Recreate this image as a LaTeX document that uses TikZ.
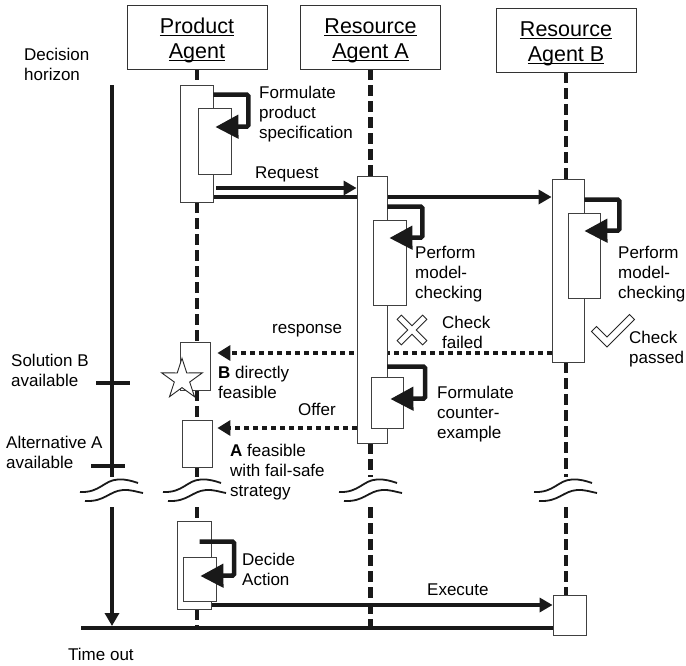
\documentclass[tikz,border=0pt]{standalone}
\usepackage{fontspec}
\setmainfont{Liberation Sans}
\usetikzlibrary{arrows.meta,calc}
\pgfdeclarelayer{bg}
\pgfsetlayers{bg,main}

% underlined word with a fixed rule depth
\newcommand\ulword[1]{\setbox0\hbox{#1}\rlap{\rule[-2.6pt]{\wd0}{1.1pt}}\box0}
% multi-line label whose baseline is the first line
\newcommand\labeltext[1]{\begin{tabular}[t]{@{}l@{}}#1\end{tabular}}

\tikzset{
  header/.style={draw=black!80, line width=0.9pt, minimum width=140pt, minimum height=64pt,
    inner sep=0pt},
  headtext/.style={inner sep=0pt, align=center, font=\fontsize{21.5}{25}\selectfont},
  actbox/.style={draw=black!75, fill=white, line width=0.8pt, inner sep=0pt},
  lifeline/.style={line width=4.5pt, dash pattern=on 11pt off 5pt, black!90},
  axisline/.style={line width=4.5pt, black!90},
  msg/.style={line width=4.5pt, black!90, -{Triangle[length=13pt,width=14pt]}},
  reply/.style={line width=4.5pt, black!90, dash pattern=on 5pt off 4pt,
    -{Triangle[length=13pt,width=15pt]}},
  selfloop/.style={line width=4.5pt, black!90, rounded corners=1.5pt,
    -{Triangle[length=23pt,width=23pt]}},
  markshape/.style={draw=black!85, fill=white, line width=0.9pt},
  lbl/.style={anchor=base west, inner sep=0pt, font=\fontsize{17}{20}\selectfont},
  brk/.pic={
    \draw[line width=1.8pt, black!90] (-32,0) .. controls (-12,1) and (-8,-12) .. (6,-12.5)
      .. controls (14,-13) and (20,-11) .. (26,-9);
    \draw[line width=1.8pt, black!90] (-27,9) .. controls (-7,10) and (-3,-1) .. (11,-2)
      .. controls (19,-2.5) and (25,0) .. (31,1);
  },
}

\begin{document}
\begin{tikzpicture}[x=1pt,y=-1pt]
\useasboundingbox (0,0) rectangle (686,665);

% agents
\node[header] (pa) at (197,37) {};
\node[header] (ra) at (370.5,37) {};
\node[header] (rb) at (566,40) {};
\node[headtext] (paName) at ($(pa)+(0,3.5)$) {\ulword{Product}\\\ulword{Agent}};
\node[headtext] (raName) at ($(ra)+(0,3.5)$) {\ulword{Resource}\\\ulword{Agent A}};
\node[headtext] (rbName) at ($(rb)+(0,3.5)$) {\ulword{Resource}\\\ulword{Agent B}};

% activation boxes
\node[actbox, minimum width=33pt, minimum height=117pt] (pa1) at (196.5,143.5) {};
\node[actbox, minimum width=33pt, minimum height=66pt] (pa1in) at (214.5,141) {};
\node[actbox, minimum width=30pt, minimum height=267pt] (ra1) at (372,309.5) {};
\node[actbox, minimum width=33pt, minimum height=85pt] (ra1in) at (389.5,262.5) {};
\node[actbox, minimum width=32pt, minimum height=51pt] (ra2in) at (387,402.5) {};
\node[actbox, minimum width=32pt, minimum height=183pt] (rb1) at (568,270.5) {};
\node[actbox, minimum width=32pt, minimum height=85pt] (rb1in) at (584,255.5) {};
\node[actbox, minimum width=30pt, minimum height=48pt] (pa2) at (195,366) {};
\node[actbox, minimum width=30pt, minimum height=47pt] (pa3) at (197,443.5) {};
\node[actbox, minimum width=34pt, minimum height=88pt] (pa4) at (194,565) {};
\node[actbox, minimum width=33pt, minimum height=44pt] (pa4in) at (199.5,579) {};
\node[actbox, minimum width=33pt, minimum height=40pt] (rb2) at (569.5,615) {};

% message levels and time axis points
\coordinate (yreq) at (0,188);
\coordinate (yreqb) at (0,197);
\coordinate (yresp) at (0,353);
\coordinate (yoffer) at (0,428);
\coordinate (yexec) at (0,605);
\coordinate (ybase) at (0,628);
\coordinate (brktop) at (0,477);
\coordinate (brkbot) at (0,507);
\coordinate (axtop) at (112,85);
\coordinate (axend) at (112,626);
\coordinate (basestart) at (81,628);

\begin{pgfonlayer}{bg}
  % lifelines
  \draw[lifeline] (pa.south) -- (pa.south |- pa1.north);
  \draw[lifeline] (pa.south |- pa1.south) -- (pa.south |- pa2.north);
  \draw[lifeline] (pa.south |- pa2.south) -- (pa.south |- pa3.north);
  \draw[lifeline] (pa.south |- pa3.south) -- (pa.south |- brktop);
  \draw[lifeline] (pa.south |- brkbot) -- (pa.south |- pa4.north);
  \draw[lifeline] (pa.south |- pa4.south) -- (pa.south |- ybase);
  \draw[lifeline] (ra.south) -- (ra.south |- ra1.north);
  \draw[lifeline] (ra.south |- ra1.south) -- (ra.south |- brktop);
  \draw[lifeline] (ra.south |- brkbot) -- (ra.south |- ybase);
  \draw[lifeline] (rb.south) -- (rb.south |- rb1.north);
  \draw[lifeline] (rb.south |- rb1.south) -- (rb.south |- brktop);
  \draw[lifeline] (rb.south |- brkbot) -- (rb.south |- rb2.north);

  % decision horizon axis
  \draw[axisline] (axtop) -- (axtop |- brktop);
  \draw[axisline, -{Triangle[length=13pt,width=14pt]}] (axtop |- brkbot) -- (axend);
  \draw[axisline] (96,383) -- (130,383);
  \draw[axisline] (91,466) -- (125,466);
  \draw[axisline] (basestart) -- (rb2.west |- basestart);

  % messages
  \draw[msg] ($(pa1.east |- yreq)+(3,0)$) -- (ra1.west |- yreq);
  \draw[msg] (pa1.east |- yreqb) -- (rb1.west |- yreqb);
  \draw[reply] (rb1.west |- yresp) -- ($(pa2.east |- yresp)+(7,0)$);
  \draw[reply] (ra1.west |- yoffer) -- ($(pa3.east |- yoffer)+(5,0)$);
  \draw[msg] (pa4.east |- yexec) -- (rb2.west |- yexec);
\end{pgfonlayer}

% breaks in time
\pic at (112,492) {brk};
\pic at (195,492) {brk};
\pic at (371,492) {brk};
\pic at (566,492) {brk};

% self calls
\draw[selfloop] ($(pa1.north east)+(0,10)$) -- ++(35,0) -- ++(0,32) -- ($(pa1in.east)+(-16,-14)$);
\draw[selfloop] ($(ra1.north east)+(0,31)$) -- ++(35,0) -- ++(0,31) -- ($(ra1in.east)+(-17,-24.5)$);
\draw[selfloop] ($(ra2in.north)+(0,-10)$) -- ++(38,0) -- ++(0,32) -- ($(ra2in.east)+(-13,-3.5)$);
\draw[selfloop] ($(rb1.north east)+(0,21)$) -- ++(35,0) -- ++(0,31) -- ($(rb1in.east)+(-16,-24.5)$);
\draw[selfloop] ($(pa4in.north)+(0,-15)$) -- ++(34.5,0) -- ++(0,34) -- ($(pa4in.east)+(-16,-3)$);

% result marks: star, cross and tick
\coordinate (starc) at (182,379.5);
\draw[markshape] ($(starc)+(-90:21.3)$)
  \foreach \a/\r in {-54/8.1, -18/21.3, 18/8.1, 54/21.3, 90/8.1, 126/21.3, 162/8.1, 198/21.3, 234/8.1}
  { -- ($(starc)+(\a:\r)$) } -- cycle;
\begin{scope}[shift={(412,330)}, rotate=45]
  \draw[markshape] (3,18) -- (3,3) -- (18,3) -- (18,-3) -- (3,-3) -- (3,-18) -- (-3,-18)
    -- (-3,-3) -- (-18,-3) -- (-18,3) -- (-3,3) -- (-3,18) -- cycle;
\end{scope}
\draw[markshape] (596.5,326.5) -- (607,337) -- (629.5,314.5) -- (634.5,319.5) -- (607,347)
  -- (591.5,331.5) -- cycle;

% labels
\node[lbl] (tDecision) at (24,60) {\labeltext{Decision\\horizon}};
\node[lbl] (tFormulate) at (259,98) {\labeltext{Formulate\\product\\specification}};
\node[lbl] (tRequest) at (255,178) {Request};
\node[lbl] (tPerfA) at (415,258) {\labeltext{Perform\\model-\\checking}};
\node[lbl] (tPerfB) at (618,258) {\labeltext{Perform\\model-\\checking}};
\node[lbl] (tFailed) at (442,328) {\labeltext{Check\\failed}};
\node[lbl] (tPassed) at (629,343) {\labeltext{Check\\passed}};
\node[lbl] (tResponse) at (272,333) {response};
\node[lbl] (tBdirect) at (218,378) {\labeltext{\textbf{B} directly\\feasible}};
\node[lbl] (tOffer) at (298,415) {Offer};
\node[lbl] (tAfeas) at (230,456) {\labeltext{\textbf{A} feasible\\with fail-safe\\strategy}};
\node[lbl] (tCounter) at (437,398) {\labeltext{Formulate\\counter-\\example}};
\node[lbl] (tSolB) at (11,366) {\labeltext{Solution B\\available}};
\node[lbl] (tAltA) at (6,448) {\labeltext{Alternative A\\available}};
\node[lbl] (tDecide) at (242,565) {\labeltext{Decide\\Action}};
\node[lbl] (tExec) at (427,595) {Execute};
\node[lbl] (tTimeout) at (68,660) {Time out};
\end{tikzpicture}
\end{document}
